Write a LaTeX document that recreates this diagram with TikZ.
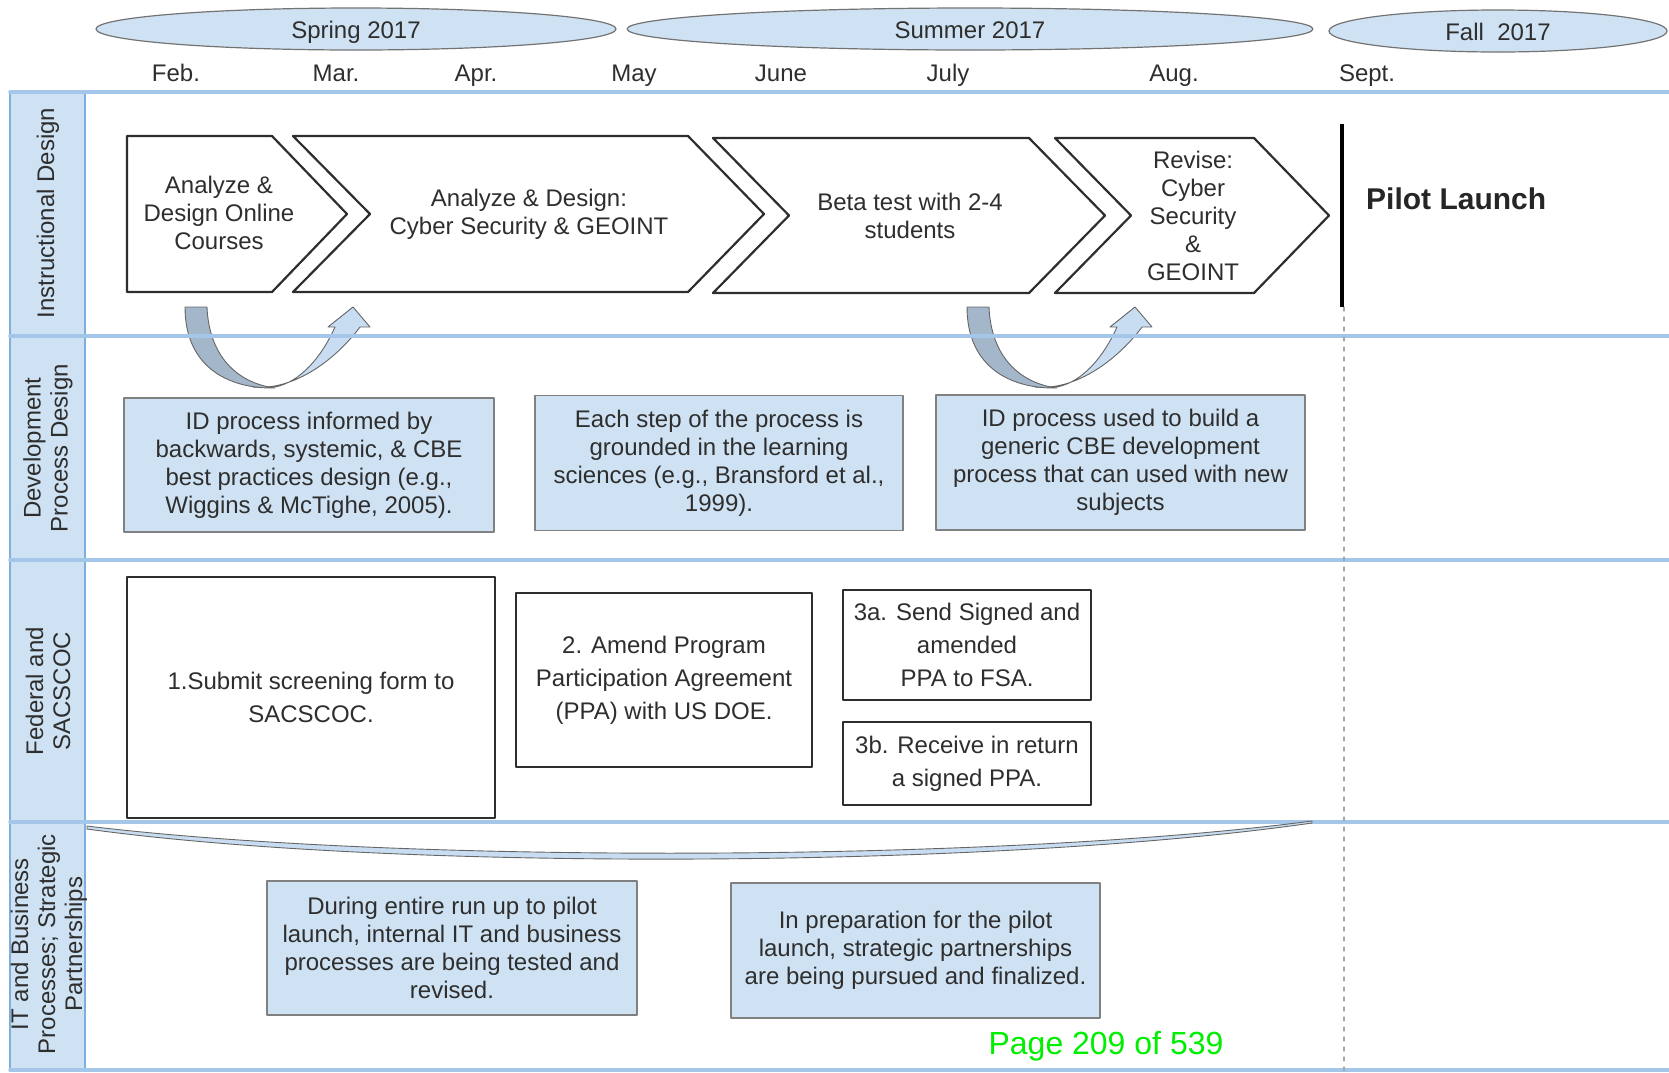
\documentclass[tikz,border=0pt]{standalone}
\usepackage{fontspec}
\setmainfont{Liberation Sans}
\usetikzlibrary{shapes.geometric}
\definecolor{paleblue}{HTML}{CFE2F3}
\definecolor{gridblue}{HTML}{A4C6E8}
\definecolor{edgeblue}{HTML}{7EAEDD}
\definecolor{darkribbon}{HTML}{A3B6CA}
\definecolor{lightribbon}{HTML}{C8DDF1}
\definecolor{inkgray}{HTML}{2E2E2E}
\definecolor{pagegreen}{HTML}{00EE00}
\begin{document}
\begin{tikzpicture}[x=1pt,y=-1pt,line join=round,line cap=round,>=stealth]
	\tikzset{
		every node/.style={inner sep=0pt,text=inkgray,font=\fontsize{24}{28}\selectfont},
		season/.style={ellipse,draw=black!55,line width=1.2pt,fill=paleblue,text height=20pt,text depth=2pt},
		month/.style={text height=17pt,text depth=5pt},
		chevron/.style={draw=inkgray,line width=2.2pt,fill=white},
		notebox/.style={draw=black!50,line width=1.5pt,fill=paleblue,align=center},
		stepbox/.style={draw=inkgray,line width=2.2pt,fill=white,align=center,font=\fontsize{24}{33}\selectfont},
		lanelabel/.style={rotate=90,align=center,font=\fontsize{24}{27}\selectfont},
		gridline/.style={draw=gridblue,line width=3.5pt},
		ribbon/.style={draw=black!60,line width=0.9pt}
	}
	\useasboundingbox (0,0) rectangle (1669,1072);
	% lanes
	\fill[paleblue] (10,92) rectangle (85,1070);
	\draw[edgeblue,line width=2pt] (10,92) -- (10,1070) (85,92) -- (85,1070);
	% turning arrows
	\foreach \bx in {275,1057}{
		\begin{scope}[shift={(\bx,388)}]
			\draw[ribbon,fill=lightribbon] (-22,-1) .. controls (20,3) and (62,-30) .. (85,-61) -- (95,-61) -- (78,-81) -- (53,-61) -- (60,-61) .. controls (46,-30) and (25,-6) .. (0,-1) -- cycle;
			\draw[ribbon,fill=darkribbon] (-90,-81) .. controls (-90,-22) and (-48,1) .. (0,0) .. controls (-38,-5) and (-66,-32) .. (-68,-81) -- cycle;
		\end{scope}
	}
	\foreach \ly in {92,336,560,822,1070}
		\draw[gridline] (10,\ly) -- (1669,\ly);
	\draw[black!35,line width=1.2pt,dash pattern=on 4pt off 6pt] (1344,307) -- (1344,1072);
	\draw[ribbon,fill=lightribbon] (87,829) .. controls (400,872) and (1000,868) .. (1312,823) -- (1312,821) .. controls (1000,862) and (400,864) .. (87,826) -- cycle;
	% seasons and months
	\node[season,minimum width=520pt,minimum height=42pt] (spring) at (356,29) {Spring 2017};
	\node[season,minimum width=686pt,minimum height=42pt] (summer) at (970,29) {Summer 2017};
	\node[season,minimum width=338pt,minimum height=42pt] (fall) at (1498,31) {Fall\ \ 2017};
	\foreach \m/\mx [count=\i] in {Feb./176,Mar./336,Apr./476,May/634,June/781,July/948,Aug./1174,Sept./1367}
		\node[month] (month\i) at (\mx,75) {\m};
	% lane labels
	\node[lanelabel] (lane1) at (48,213) {Instructional Design};
	\node[lanelabel] (lane2) at (48,448) {Development\\Process Design};
	\node[lanelabel] (lane3) at (48,691) {Federal and\\SACSCOC};
	\node[lanelabel] (lane4) at (49,944) {IT and Business\\Processes; Strategic\\Partnerships};
	% instructional design
	\draw[chevron] (127,136) -- (272,136) -- (347,214) -- (272,292) -- (127,292) -- cycle;
	\draw[chevron] (293,136) -- (688,136) -- (764,214) -- (688,292) -- (293,292) -- (370,214) -- cycle;
	\draw[chevron] (713,138) -- (1029,138) -- (1105,215.5) -- (1029,293) -- (713,293) -- (789,215.5) -- cycle;
	\draw[chevron] (1055,138) -- (1254,138) -- (1329,215.5) -- (1254,293) -- (1055,293) -- (1131,215.5) -- cycle;
	\node[align=center] (analyze) at (219,213) {Analyze \&\\Design Online\\Courses};
	\node[align=center] (cyber) at (529,214) {Analyze \& Design:\\Cyber Security \& GEOINT};
	\node[align=center] (beta) at (910,216) {Beta test with 2-4\\students};
	\node[align=center] (revise) at (1193,216) {Revise:\\Cyber\\Security\\\&\\GEOINT};
	\draw[black,line width=3.5pt,line cap=butt] (1342,124) -- (1342,307);
	\node[anchor=west,text=black!85,font=\fontsize{30}{36}\selectfont\bfseries] (pilot) at (1366,199) {Pilot Launch};
	% development process design
	\node[notebox,minimum width=370pt,minimum height=134pt] (idinform) at (309,465) {ID process informed by\\backwards, systemic, \& CBE\\best practices design (e.g.,\\Wiggins \& McTighe, 2005).};
	\node[notebox,minimum width=368pt,minimum height=135pt] (grounded) at (719,463) {Each step of the process is\\grounded in the learning\\sciences (e.g., Bransford et al.,\\1999).};
	\node[notebox,minimum width=369pt,minimum height=135pt] (generic) at (1120.5,462.5) {ID process used to build a\\generic CBE development\\process that can used with new\\subjects};
	% federal and sacscoc
	\node[stepbox,minimum width=368pt,minimum height=241pt] (submit) at (311,697.5) {1.Submit screening form to\\SACSCOC.};
	\node[stepbox,minimum width=296pt,minimum height=174pt] (amend) at (664,680) {2. Amend Program\\Participation Agreement\\(PPA) with US DOE.};
	\node[stepbox,minimum width=248pt,minimum height=110pt] (send) at (967,645) {3a. Send Signed and\\amended\\PPA to FSA.};
	\node[stepbox,minimum width=248pt,minimum height=83pt] (receive) at (967,763.5) {3b. Receive in return\\a signed PPA.};
	% it and business
	\node[notebox,minimum width=370pt,minimum height=134pt] (runup) at (452,948) {During entire run up to pilot\\launch, internal IT and business\\processes are being tested and\\revised.};
	\node[notebox,minimum width=369pt,minimum height=135pt] (partner) at (915.5,950.5) {In preparation for the pilot\\launch, strategic partnerships\\are being pursued and finalized.};
	\node[anchor=base,text=pagegreen,font=\fontsize{32}{38}\selectfont] (pagenum) at (1106,1054) {Page 209 of 539};
\end{tikzpicture}
\end{document}
